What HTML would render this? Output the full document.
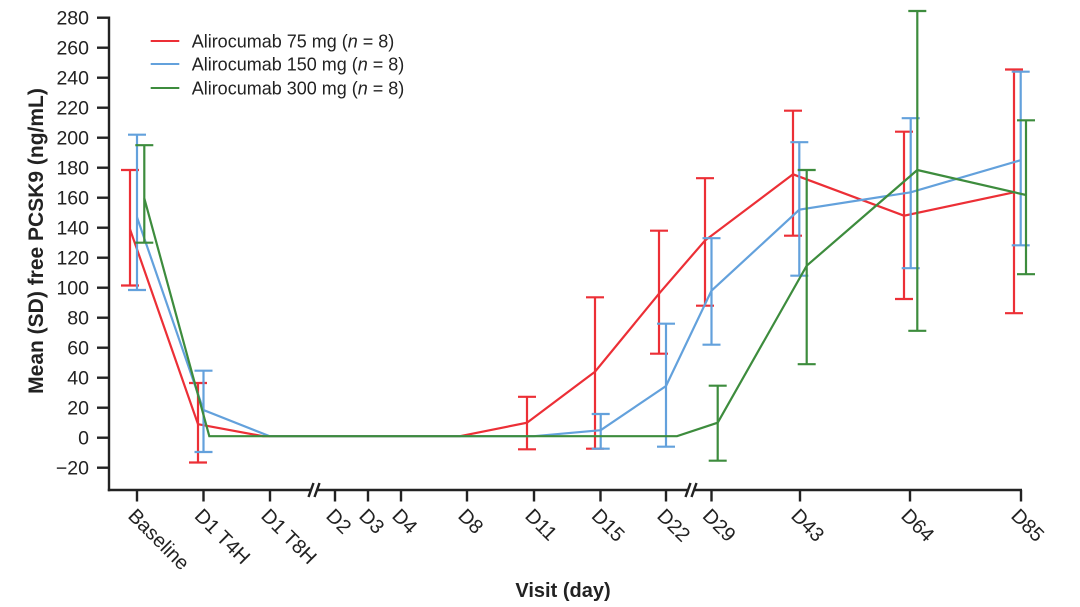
<!DOCTYPE html>
<html>
<head>
<meta charset="utf-8">
<style>
html,body{margin:0;padding:0;background:#fff;}
svg{display:block;}
text{font-family:"Liberation Sans",Arial,sans-serif;fill:#222;}
</style>
</head>
<body>
<svg width="1080" height="607" viewBox="0 0 1080 607" xmlns="http://www.w3.org/2000/svg">
<rect width="1080" height="607" fill="#fff"/>

<!-- Y axis -->
<g stroke="#222" stroke-width="2.4" fill="none">
  <line x1="109" y1="16.5" x2="109" y2="491.2"/>
  <line x1="97" y1="17.7" x2="109" y2="17.7"/>
  <line x1="97" y1="47.7" x2="109" y2="47.7"/>
  <line x1="97" y1="77.7" x2="109" y2="77.7"/>
  <line x1="97" y1="107.7" x2="109" y2="107.7"/>
  <line x1="97" y1="137.7" x2="109" y2="137.7"/>
  <line x1="97" y1="167.7" x2="109" y2="167.7"/>
  <line x1="97" y1="197.7" x2="109" y2="197.7"/>
  <line x1="97" y1="227.7" x2="109" y2="227.7"/>
  <line x1="97" y1="257.7" x2="109" y2="257.7"/>
  <line x1="97" y1="287.7" x2="109" y2="287.7"/>
  <line x1="97" y1="317.7" x2="109" y2="317.7"/>
  <line x1="97" y1="347.7" x2="109" y2="347.7"/>
  <line x1="97" y1="377.7" x2="109" y2="377.7"/>
  <line x1="97" y1="407.7" x2="109" y2="407.7"/>
  <line x1="97" y1="437.7" x2="109" y2="437.7"/>
  <line x1="97" y1="467.7" x2="109" y2="467.7"/>
</g>
<g font-size="19.5" text-anchor="end">
  <text x="89" y="24.7">280</text>
  <text x="89" y="54.7">260</text>
  <text x="89" y="84.7">240</text>
  <text x="89" y="114.7">220</text>
  <text x="89" y="144.7">200</text>
  <text x="89" y="174.7">180</text>
  <text x="89" y="204.7">160</text>
  <text x="89" y="234.7">140</text>
  <text x="89" y="264.7">120</text>
  <text x="89" y="294.7">100</text>
  <text x="89" y="324.7">80</text>
  <text x="89" y="354.7">60</text>
  <text x="89" y="384.7">40</text>
  <text x="89" y="414.7">20</text>
  <text x="89" y="444.7">0</text>
  <text x="89" y="474.7">−20</text>
</g>

<!-- X axis -->
<g stroke="#222" stroke-width="2.4" fill="none">
  <line x1="107.8" y1="490" x2="311.5" y2="490"/>
  <line x1="316.5" y1="490" x2="688.5" y2="490"/>
  <line x1="693.5" y1="490" x2="1022" y2="490"/>
  <line x1="308.5" y1="497" x2="313.5" y2="483"/>
  <line x1="314.5" y1="497" x2="319.5" y2="483"/>
  <line x1="685.5" y1="497" x2="690.5" y2="483"/>
  <line x1="691.5" y1="497" x2="696.5" y2="483"/>
  <line x1="137" y1="490" x2="137" y2="501.5"/>
  <line x1="203.5" y1="490" x2="203.5" y2="501.5"/>
  <line x1="270" y1="490" x2="270" y2="501.5"/>
  <line x1="335" y1="490" x2="335" y2="501.5"/>
  <line x1="368" y1="490" x2="368" y2="501.5"/>
  <line x1="401" y1="490" x2="401" y2="501.5"/>
  <line x1="467" y1="490" x2="467" y2="501.5"/>
  <line x1="534" y1="490" x2="534" y2="501.5"/>
  <line x1="600.5" y1="490" x2="600.5" y2="501.5"/>
  <line x1="666" y1="490" x2="666" y2="501.5"/>
  <line x1="711.5" y1="490" x2="711.5" y2="501.5"/>
  <line x1="800" y1="490" x2="800" y2="501.5"/>
  <line x1="910" y1="490" x2="910" y2="501.5"/>
  <line x1="1021" y1="490" x2="1021" y2="501.5"/>
</g>
<g font-size="20">
  <text transform="translate(127,517) rotate(45)">Baseline</text>
  <text transform="translate(193.5,517) rotate(45)">D1 T4H</text>
  <text transform="translate(260,517) rotate(45)">D1 T8H</text>
  <text transform="translate(325,517) rotate(45)">D2</text>
  <text transform="translate(358,517) rotate(45)">D3</text>
  <text transform="translate(391,517) rotate(45)">D4</text>
  <text transform="translate(457,517) rotate(45)">D8</text>
  <text transform="translate(524,517) rotate(45)">D11</text>
  <text transform="translate(590.5,517) rotate(45)">D15</text>
  <text transform="translate(656,517) rotate(45)">D22</text>
  <text transform="translate(701.5,517) rotate(45)">D29</text>
  <text transform="translate(790,517) rotate(45)">D43</text>
  <text transform="translate(900,517) rotate(45)">D64</text>
  <text transform="translate(1010,517) rotate(45)">D85</text>
</g>

<!-- Axis titles -->
<text x="563" y="597" font-size="20" font-weight="bold" text-anchor="middle">Visit (day)</text>
<text transform="translate(43,241) rotate(-90)" font-size="21" font-weight="bold" text-anchor="middle">Mean (SD) free PCSK9 (ng/mL)</text>

<!-- Legend -->
<g stroke-width="2">
  <line x1="150.7" y1="41" x2="179.3" y2="41" stroke="#ec2f36"/>
  <line x1="150.7" y1="64" x2="179.3" y2="64" stroke="#63a1dc"/>
  <line x1="150.7" y1="88" x2="179.3" y2="88" stroke="#3d8c3d"/>
</g>
<g font-size="18">
  <text x="191.7" y="47.5">Alirocumab 75 mg (<tspan font-style="italic">n</tspan> = 8)</text>
  <text x="191.7" y="70.5">Alirocumab 150 mg (<tspan font-style="italic">n</tspan> = 8)</text>
  <text x="191.7" y="94.5">Alirocumab 300 mg (<tspan font-style="italic">n</tspan> = 8)</text>
</g>

<!-- Red series -->
<g stroke="#ec2f36" stroke-width="2.2" fill="none">
  <polyline points="130,229.2 198,424.2 263,436.2 460,436.2 527,422.7 595,371.7 659,293.7 705,240.5 793,174.3 904,215.7 1014,192.3"/>
  <path d="M130,170V285.5M121,170H139M121,285.5H139"/>
  <path d="M198,383V462.5M189,383H207M189,462.5H207"/>
  <path d="M527,396.8V449.3M518,396.8H536M518,449.3H536"/>
  <path d="M595,297.3V448.7M586,297.3H604M586,448.7H604"/>
  <path d="M659,230.7V353.7M650,230.7H668M650,353.7H668"/>
  <path d="M705,178.2V305.7M696,178.2H714M696,305.7H714"/>
  <path d="M793,110.7V235.7M784,110.7H802M784,235.7H802"/>
  <path d="M904,131.7V299M895,131.7H913M895,299H913"/>
  <path d="M1014,69.5V313.2M1005,69.5H1023M1005,313.2H1023"/>
</g>

<!-- Blue series -->
<g stroke="#63a1dc" stroke-width="2.2" fill="none">
  <polyline points="137,217.2 203.5,410 269.5,436.2 534,436.2 600.7,430.2 666,386 711.5,290.7 799.3,209.7 910.7,192.3 1020.7,160.2"/>
  <path d="M137,134.7V290M128,134.7H146M128,290H146"/>
  <path d="M203.5,370.7V452M194.5,370.7H212.5M194.5,452H212.5"/>
  <path d="M600.7,414V448.7M591.7,414H609.7M591.7,448.7H609.7"/>
  <path d="M666,323.7V446.7M657,323.7H675M657,446.7H675"/>
  <path d="M711.5,238.2V344.7M702.5,238.2H720.5M702.5,344.7H720.5"/>
  <path d="M799.3,142.2V275.7M790.3,142.2H808.3M790.3,275.7H808.3"/>
  <path d="M910.7,118.2V268.2M901.7,118.2H919.7M901.7,268.2H919.7"/>
  <path d="M1020.7,71.7V245.3M1011.7,71.7H1029.7M1011.7,245.3H1029.7"/>
</g>

<!-- Green series -->
<g stroke="#3d8c3d" stroke-width="2.2" fill="none">
  <polyline points="144.3,198.3 209.3,436.2 677,436.2 717.7,422.7 806.7,265.7 917.3,170 1026,195"/>
  <path d="M144.3,145.2V242.7M135.3,145.2H153.3M135.3,242.7H153.3"/>
  <path d="M717.7,385.7V460.7M708.7,385.7H726.7M708.7,460.7H726.7"/>
  <path d="M806.7,170V364.2M797.7,170H815.7M797.7,364.2H815.7"/>
  <path d="M917.3,11V330.8M908.3,11H926.3M908.3,330.8H926.3"/>
  <path d="M1026,120.3V274.2M1017,120.3H1035M1017,274.2H1035"/>
</g>
</svg>
</body>
</html>
